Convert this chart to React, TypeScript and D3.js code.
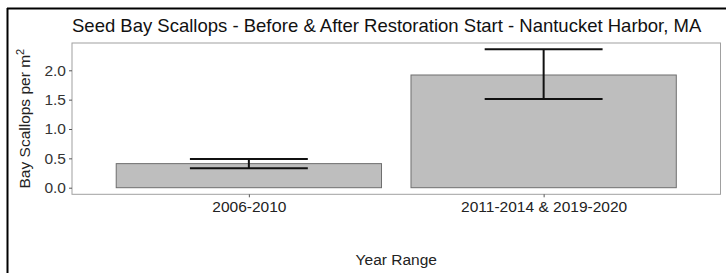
import React, { useEffect, useRef } from "react";
import * as d3 from "d3";

const categories = ["2006-2010", "2011-2014 & 2019-2020"];
const means = [0.41, 1.92];
const lower = [0.33, 1.51];
const upper = [0.49, 2.36];
const yTicks = [0.0, 0.5, 1.0, 1.5, 2.0];

const W = 726;
const H = 273;

export default function App() {
  const ref = useRef<SVGSVGElement>(null);

  useEffect(() => {
    const svg = d3.select(ref.current);
    svg.selectAll("*").remove();

    const panel = { left: 72, right: 720.5, top: 43, bottom: 194.3 };
    const font = "Liberation Sans, Arial, sans-serif";

    svg.append("rect").attr("width", W).attr("height", H).attr("fill", "#fff");

    // outer frame, only top and left edges visible
    svg.append("line").attr("x1", 7).attr("x2", W).attr("y1", 8.5).attr("y2", 8.5)
      .attr("stroke", "#000").attr("stroke-width", 2);
    svg.append("line").attr("x1", 7.5).attr("x2", 7.5).attr("y1", 8).attr("y2", H)
      .attr("stroke", "#000").attr("stroke-width", 2);

    // discrete x like ggplot: expansion of 0.6 on each side
    const x = d3.scaleLinear().domain([0.4, categories.length + 0.6]).range([panel.left, panel.right]);
    const y = d3.scaleLinear().domain([0, 2]).range([187.7, 70.3]);
    const barW = (x(1.9) - x(1));
    const ebW = (x(1.4) - x(1));

    const g = svg.append("g");

    categories.forEach((c, i) => {
      const cx = x(i + 1);
      g.append("rect")
        .attr("x", cx - barW / 2)
        .attr("y", y(means[i]))
        .attr("width", barW)
        .attr("height", y(0) - y(means[i]))
        .attr("fill", "#bebebe")
        .attr("stroke", "#6e6e6e")
        .attr("stroke-width", 1);
    });

    categories.forEach((c, i) => {
      const cx = x(i + 1);
      const eb = g.append("g").attr("stroke", "#111").attr("stroke-width", 2);
      eb.append("line").attr("x1", cx).attr("x2", cx).attr("y1", y(upper[i])).attr("y2", y(lower[i]));
      eb.append("line").attr("x1", cx - ebW / 2).attr("x2", cx + ebW / 2).attr("y1", y(upper[i])).attr("y2", y(upper[i]));
      eb.append("line").attr("x1", cx - ebW / 2).attr("x2", cx + ebW / 2).attr("y1", y(lower[i])).attr("y2", y(lower[i]));
    });

    // panel border
    svg.append("rect")
      .attr("x", panel.left).attr("y", panel.top)
      .attr("width", panel.right - panel.left).attr("height", panel.bottom - panel.top)
      .attr("fill", "none").attr("stroke", "#a0a0a0").attr("stroke-width", 1);

    // y axis
    const ya = svg.append("g").attr("transform", `translate(${panel.left},0)`)
      .call(d3.axisLeft(y).tickValues(yTicks).tickFormat(d3.format(".1f")).tickSize(3).tickPadding(3));
    ya.select(".domain").remove();
    ya.selectAll("line").attr("stroke", "#555");
    ya.selectAll("text").attr("font-family", font).attr("font-size", 15.5).attr("fill", "#333");

    // x axis
    const xa = svg.append("g").attr("transform", `translate(0,${panel.bottom})`)
      .call(d3.axisBottom(x).tickValues(categories.map((_, i) => i + 1))
        .tickFormat((d) => categories[(d as number) - 1]).tickSize(3).tickPadding(4));
    xa.select(".domain").remove();
    xa.selectAll("line").attr("stroke", "#555");
    xa.selectAll("text").attr("font-family", font).attr("font-size", 15.5).attr("fill", "#222");

    // title
    svg.append("text")
      .attr("x", panel.left).attr("y", 31.5)
      .attr("font-family", font).attr("font-size", 18.5).attr("fill", "#111")
      .text("Seed Bay Scallops - Before & After Restoration Start - Nantucket Harbor, MA");

    // axis titles
    svg.append("text")
      .attr("x", (panel.left + panel.right) / 2).attr("y", 265)
      .attr("text-anchor", "middle")
      .attr("font-family", font).attr("font-size", 15.5).attr("fill", "#222")
      .text("Year Range");

    const yt = svg.append("text")
      .attr("transform", `translate(30,${(panel.top + panel.bottom) / 2}) rotate(-90)`)
      .attr("text-anchor", "middle")
      .attr("font-family", font).attr("font-size", 15.5).attr("fill", "#222");
    yt.append("tspan").text("Bay Scallops per m");
    yt.append("tspan").attr("dy", -6).attr("font-size", 11).text("2");
  }, []);

  return (
    <svg ref={ref} width={W} height={H} style={{ position: "absolute", left: 0, top: 0 }} />
  );
}
